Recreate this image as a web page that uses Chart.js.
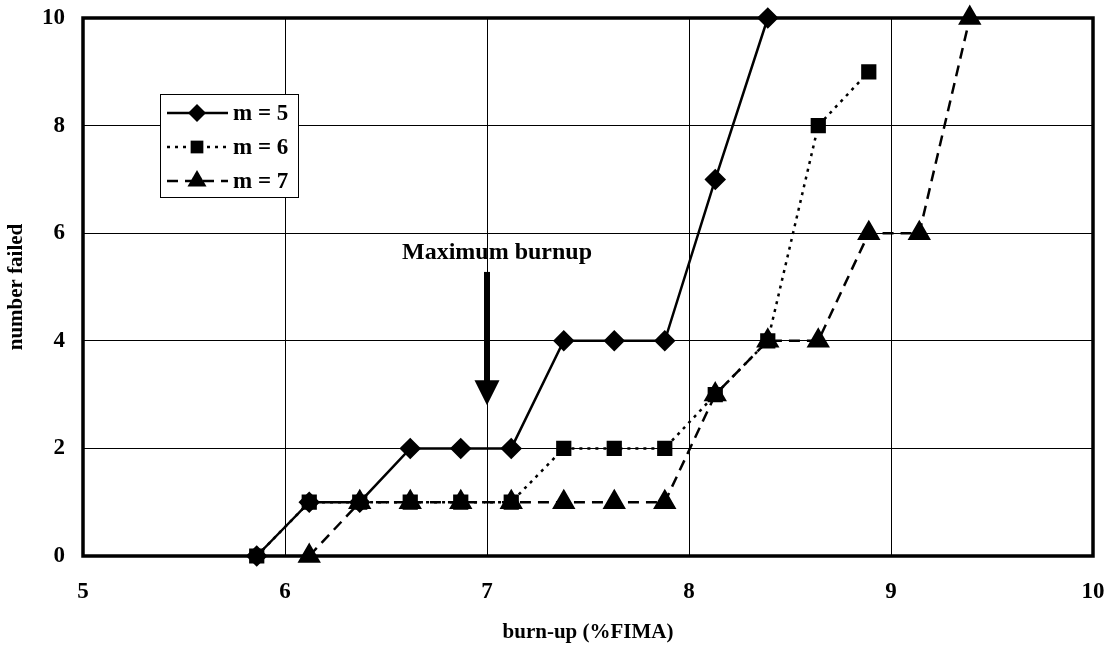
<!DOCTYPE html>
<html>
<head>
<meta charset="utf-8">
<script src="https://cdn.jsdelivr.net/npm/chart.js@4.4.0/dist/chart.umd.min.js"></script>
<style>
  html, body { margin: 0; padding: 0; background: #fff; }
  #wrap { width: 1114px; height: 649px; position: relative; }
</style>
</head>
<body>
<div id="wrap"><canvas id="failChart"></canvas></div>
<script>
// burn-up (%FIMA) for each step
const burnup = [5.86, 6.12, 6.37, 6.62, 6.87, 7.12, 7.38, 7.63, 7.88, 8.13, 8.39, 8.64, 8.89, 9.14, 9.39];
// number failed per Weibull modulus
const failedM5 = [0, 1, 1, 2, 2, 2, 4, 4, 4, 7, 10];
const failedM6 = [0, 1, 1, 1, 1, 1, 2, 2, 2, 3, 4, 8, 9];
const failedM7 = [null, 0, 1, 1, 1, 1, 1, 1, 1, 3, 4, 4, 6, 6, 10];
const seriesLabels = ['m = 5', 'm = 6', 'm = 7'];
const xTicks = [5, 6, 7, 8, 9, 10];
const yTicks = [0, 2, 4, 6, 8, 10];
// arrow annotation
const arrowX = 7;
const arrowTop = 5.28;
const arrowTip = 2.8;
const arrowText = 'Maximum burnup';

const serif = '"Liberation Serif", "Times New Roman", serif';

function toPoints(vals) {
    return vals.map((v, i) => ({ x: burnup[i], y: v })).filter(p => p.y !== null);
}

// Thick frame around the plot area
const framePlugin = {
    id: 'frame',
    afterDraw(chart) {
        const { ctx, chartArea: a } = chart;
        ctx.save();
        ctx.strokeStyle = '#000';
        ctx.lineWidth = 3.5;
        ctx.strokeRect(a.left, a.top, a.right - a.left, a.bottom - a.top);
        ctx.restore();
    }
};

// "Maximum burnup" arrow
const arrowPlugin = {
    id: 'arrow',
    afterDatasetsDraw(chart) {
        const { ctx, scales: { x, y } } = chart;
        const px = x.getPixelForValue(arrowX);
        const top = y.getPixelForValue(arrowTop);
        const tip = y.getPixelForValue(arrowTip);
        ctx.save();
        ctx.fillStyle = '#000';
        ctx.fillRect(px - 3, top, 6, tip - top - 22);
        ctx.beginPath();
        ctx.moveTo(px - 12.5, tip - 25);
        ctx.lineTo(px + 12.5, tip - 25);
        ctx.lineTo(px, tip);
        ctx.closePath();
        ctx.fill();
        ctx.font = 'bold 24px ' + serif;
        ctx.textAlign = 'center';
        ctx.textBaseline = 'middle';
        ctx.fillText(arrowText, px + 10, top - 19);
        ctx.restore();
    }
};

// Boxed legend inside the plot
const legendPlugin = {
    id: 'boxLegend',
    afterDraw(chart) {
        const { ctx, chartArea: a } = chart;
        const bx = a.left + 77, by = a.top + 76, bw = 138, bh = 103;
        ctx.save();
        ctx.fillStyle = '#fff';
        ctx.fillRect(bx, by, bw, bh);
        ctx.strokeStyle = '#000';
        ctx.lineWidth = 1;
        ctx.strokeRect(bx + 0.5, by + 0.5, bw, bh);
        chart.data.datasets.forEach((ds, i) => {
            const cy = by + 19 + i * 34;
            ctx.save();
            ctx.strokeStyle = '#000';
            ctx.lineWidth = ds.borderWidth;
            ctx.setLineDash(ds.borderDash || []);
            ctx.beginPath();
            ctx.moveTo(bx + 7, cy);
            ctx.lineTo(bx + 68, cy);
            ctx.stroke();
            ctx.restore();
            ctx.fillStyle = '#000';
            Chart.helpers.drawPoint(ctx, {
                pointStyle: ds.pointStyle, radius: ds.pointRadius, borderWidth: 0
            }, bx + 37, cy);
            ctx.font = 'bold 23px ' + serif;
            ctx.textAlign = 'left';
            ctx.textBaseline = 'middle';
            ctx.fillText(ds.label, bx + 73, cy + 1);
        });
        ctx.restore();
    }
};

const ctx = document.getElementById('failChart').getContext('2d');
const failChart = new Chart(ctx, {
    type: 'line',
    data: {
        datasets: [{
            label: seriesLabels[0],
            data: toPoints(failedM5),
            borderColor: '#000',
            backgroundColor: '#000',
            borderWidth: 2.5,
            pointStyle: 'rectRot',
            pointRadius: 9,
            clip: false,
            order: 3
        }, {
            label: seriesLabels[1],
            data: toPoints(failedM6),
            borderColor: '#000',
            backgroundColor: '#000',
            borderWidth: 2.5,
            borderDash: [3, 5],
            pointStyle: 'rect',
            pointRadius: 9,
            clip: false,
            order: 2
        }, {
            label: seriesLabels[2],
            data: toPoints(failedM7),
            borderColor: '#000',
            backgroundColor: '#000',
            borderWidth: 2.5,
            borderDash: [11, 7],
            pointStyle: 'triangle',
            pointRadius: 11,
            clip: false,
            order: 1
        }]
    },
    options: {
        responsive: true,
        maintainAspectRatio: false,
        animation: false,
        layout: { padding: { top: 18, right: 21, left: 0, bottom: 0 } },
        plugins: {
            legend: { display: false },
            tooltip: { enabled: false }
        },
        scales: {
            x: {
                type: 'linear',
                min: 5,
                max: 10,
                afterFit(scale) {
                    scale.height = 93;
                    scale.paddingLeft = 0;
                    scale.paddingRight = 0;
                },
                afterBuildTicks(scale) { scale.ticks = xTicks.map(v => ({ value: v })); },
                grid: { color: '#000', lineWidth: 1, drawTicks: false },
                border: { display: false },
                ticks: {
                    color: '#000',
                    padding: 22,
                    font: { family: serif, size: 23, weight: 'bold' }
                },
                title: {
                    display: true,
                    text: 'burn-up (%FIMA)',
                    color: '#000',
                    padding: { bottom: 4 },
                    font: { family: serif, size: 21, weight: 'bold' }
                }
            },
            y: {
                type: 'linear',
                min: 0,
                max: 10,
                afterFit(scale) {
                    scale.width = 83;
                    scale.paddingTop = 0;
                    scale.paddingBottom = 0;
                },
                afterBuildTicks(scale) { scale.ticks = yTicks.map(v => ({ value: v })); },
                grid: { color: '#000', lineWidth: 1, drawTicks: false },
                border: { display: false },
                ticks: {
                    color: '#000',
                    padding: 18,
                    font: { family: serif, size: 23, weight: 'bold' }
                },
                title: {
                    display: true,
                    text: 'number failed',
                    color: '#000',
                    padding: { top: 4 },
                    font: { family: serif, size: 21, weight: 'bold' }
                }
            }
        }
    },
    plugins: [framePlugin, arrowPlugin, legendPlugin]
});
</script>
</body>
</html>
